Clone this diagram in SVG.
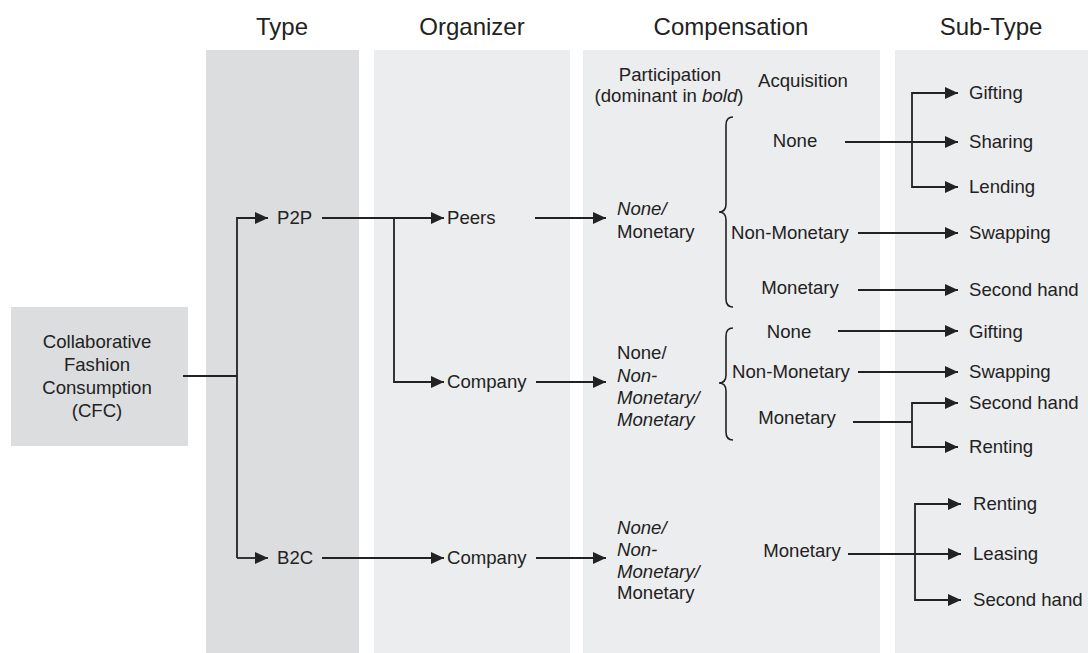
<svg xmlns="http://www.w3.org/2000/svg" width="1088" height="653" viewBox="0 0 1088 653">
<style>
text{font-family:"Liberation Sans",Arial,sans-serif;font-size:18.6px;fill:#222}
.h{font-size:24px;text-anchor:middle;fill:#222}
.c{text-anchor:middle}
.i{font-style:italic}
.ln{fill:none;stroke:#222;stroke-width:1.8}
.ar{fill:none;stroke:#222;stroke-width:1.8;marker-end:url(#a)}
.br{fill:none;stroke:#222;stroke-width:1.6}
</style>
<defs>
<marker id="a" markerUnits="userSpaceOnUse" markerWidth="14" markerHeight="12" refX="13" refY="6" orient="auto">
<path d="M0,0 L13,6 L0,12 z" fill="#222"/>
</marker>
</defs>
<rect width="1088" height="653" fill="#fff"/>
<g id="columns">
<rect x="206" y="50" width="153" height="603" fill="#dcdddf"/>
<rect x="374" y="50" width="196" height="603" fill="#ecedee"/>
<rect x="583" y="50" width="297" height="603" fill="#ecedee"/>
<rect x="895" y="50" width="193" height="603" fill="#ecedee"/>
</g>
<g id="headers">
<text class="h" x="282" y="35">Type</text>
<text class="h" x="472" y="35">Organizer</text>
<text class="h" x="731" y="35">Compensation</text>
<text class="h" x="991" y="35">Sub-Type</text>
</g>
<g id="cfc">
<rect x="11" y="307" width="177" height="139" fill="#dcdddf"/>
<text class="c" x="97" y="348">Collaborative</text>
<text class="c" x="97" y="371">Fashion</text>
<text class="c" x="97" y="394">Consumption</text>
<text class="c" x="97" y="417">(CFC)</text>
</g>
<g id="type">
<text x="277" y="224">P2P</text>
<text x="277" y="564">B2C</text>
</g>
<g id="organizer">
<text x="447" y="224">Peers</text>
<text x="447" y="388">Company</text>
<text x="447" y="564">Company</text>
</g>
<g id="compensation-labels">
<text class="c" x="670" y="81">Participation</text>
<text class="c" x="669" y="102">(dominant in <tspan class="i">bold</tspan>)</text>
<text class="c" x="803" y="87">Acquisition</text>
</g>
<g id="participation">
<text class="i" x="617" y="215">None/</text>
<text x="617" y="238">Monetary</text>
<text x="617" y="359">None/</text>
<text class="i" x="617" y="382">Non-</text>
<text class="i" x="617" y="404">Monetary/</text>
<text class="i" x="617" y="426">Monetary</text>
<text class="i" x="617" y="534">None/</text>
<text class="i" x="617" y="556">Non-</text>
<text class="i" x="617" y="578">Monetary/</text>
<text x="617" y="599">Monetary</text>
</g>
<g id="acquisition">
<text class="c" x="795" y="147">None</text>
<text class="c" x="790" y="239">Non-Monetary</text>
<text class="c" x="800" y="294">Monetary</text>
<text class="c" x="789" y="338">None</text>
<text class="c" x="791" y="378">Non-Monetary</text>
<text class="c" x="797" y="424">Monetary</text>
<text class="c" x="802" y="557">Monetary</text>
</g>
<g id="braces">
<path class="br" d="M733,117 Q726,117 726,125 L726,204 Q726,212 719,212 Q726,212 726,220 L726,299 Q726,307 733,307"/>
<path class="br" d="M733,328 Q726,328 726,336 L726,375 Q726,383 719,383 Q726,383 726,391 L726,432 Q726,440 733,440"/>
</g>
<g id="subtype">
<text x="969" y="99">Gifting</text>
<text x="969" y="148">Sharing</text>
<text x="969" y="193">Lending</text>
<text x="969" y="239">Swapping</text>
<text x="969" y="296">Second hand</text>
<text x="969" y="338">Gifting</text>
<text x="969" y="378">Swapping</text>
<text x="969" y="409">Second hand</text>
<text x="969" y="453">Renting</text>
<text x="973" y="510">Renting</text>
<text x="973" y="560">Leasing</text>
<text x="973" y="606">Second hand</text>
</g>
<g id="connectors">
<path class="ln" d="M183,376 H237"/>
<path class="ar" d="M237,558 V218 H268"/>
<path class="ar" d="M237,558 H268"/>
<path class="ar" d="M322,218 H444"/>
<path class="ar" d="M394,218 V382 H444"/>
<path class="ar" d="M322,558 H444"/>
<path class="ar" d="M535,218 H606"/>
<path class="ar" d="M536,382 H606"/>
<path class="ar" d="M536,558 H606"/>
<path class="ar" d="M845,142 H958"/>
<path class="ar" d="M912,142 V93 H958"/>
<path class="ar" d="M912,142 V187 H958"/>
<path class="ar" d="M858,233 H958"/>
<path class="ar" d="M858,290 H958"/>
<path class="ar" d="M838,331 H958"/>
<path class="ar" d="M858,372 H958"/>
<path class="ln" d="M853,422 H912"/>
<path class="ar" d="M912,422 V403 H958"/>
<path class="ar" d="M912,422 V447 H958"/>
<path class="ar" d="M848,554 H961"/>
<path class="ar" d="M915,554 V504 H961"/>
<path class="ar" d="M915,554 V600 H961"/>
</g>
</svg>
